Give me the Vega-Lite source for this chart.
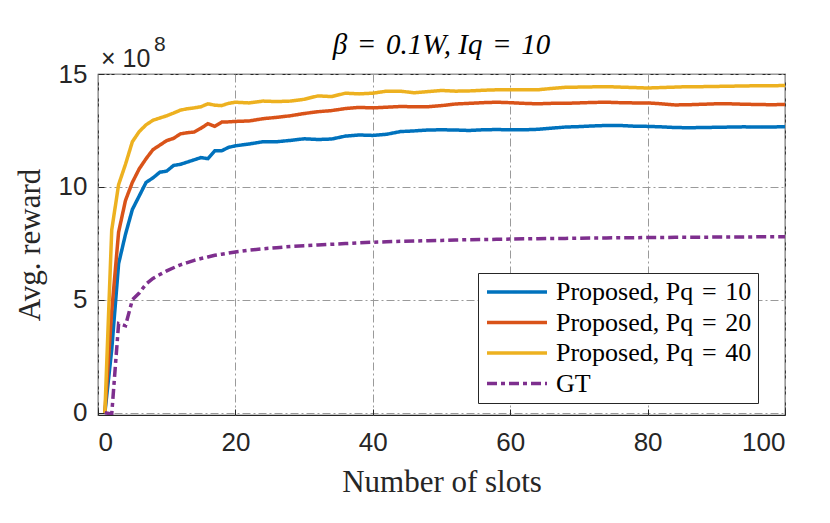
{
  "$schema": "https://vega.github.io/schema/vega-lite/v6.json",
  "width": 687,
  "height": 341,
  "autosize": {"type": "none"},
  "padding": {"left": 98, "top": 74, "right": 45, "bottom": 108},
  "background": "white",
  "title": {
    "text": "β\u2004=\u20040.1W, Iq\u2004=\u200410",
    "font": "Liberation Serif",
    "fontSize": 29,
    "fontStyle": "italic",
    "fontWeight": "normal",
    "color": "#000000",
    "anchor": "middle",
    "offset": -26
  },
  "data": {
    "values": [
      {"slot": 1, "p10": 0, "p20": 0, "p40": 0, "gt": 0},
      {"slot": 2, "p10": 2.8, "p20": 4.5, "p40": 8.1, "gt": -0.05},
      {"slot": 3, "p10": 6.6, "p20": 8.0, "p40": 10.1, "gt": 3.95},
      {"slot": 4, "p10": 7.9, "p20": 9.4, "p40": 11.0, "gt": 3.85},
      {"slot": 5, "p10": 9.0, "p20": 10.2, "p40": 12.0, "gt": 5.0},
      {"slot": 6, "p10": 9.6, "p20": 10.8, "p40": 12.45, "gt": 5.3},
      {"slot": 7, "p10": 10.2, "p20": 11.25, "p40": 12.75, "gt": 5.7},
      {"slot": 8, "p10": 10.4, "p20": 11.65, "p40": 12.95, "gt": 5.95},
      {"slot": 9, "p10": 10.65, "p20": 11.85, "p40": 13.05, "gt": 6.12},
      {"slot": 10, "p10": 10.7, "p20": 12.05, "p40": 13.15, "gt": 6.28},
      {"slot": 11, "p10": 10.95, "p20": 12.15, "p40": 13.27, "gt": 6.42},
      {"slot": 12, "p10": 11.0, "p20": 12.35, "p40": 13.4, "gt": 6.55},
      {"slot": 13, "p10": 11.1, "p20": 12.4, "p40": 13.46, "gt": 6.65},
      {"slot": 14, "p10": 11.2, "p20": 12.43, "p40": 13.5, "gt": 6.75},
      {"slot": 15, "p10": 11.3, "p20": 12.6, "p40": 13.55, "gt": 6.83},
      {"slot": 16, "p10": 11.25, "p20": 12.8, "p40": 13.68, "gt": 6.9},
      {"slot": 17, "p10": 11.6, "p20": 12.68, "p40": 13.62, "gt": 6.97},
      {"slot": 18, "p10": 11.6, "p20": 12.87, "p40": 13.6, "gt": 7.02},
      {"slot": 19, "p10": 11.75, "p20": 12.88, "p40": 13.7, "gt": 7.07},
      {"slot": 20, "p10": 11.82, "p20": 12.9, "p40": 13.75, "gt": 7.12},
      {"slot": 22, "p10": 11.9, "p20": 12.92, "p40": 13.72, "gt": 7.2},
      {"slot": 24, "p10": 12.0, "p20": 13.02, "p40": 13.8, "gt": 7.26},
      {"slot": 26, "p10": 12.0, "p20": 13.08, "p40": 13.78, "gt": 7.31},
      {"slot": 28, "p10": 12.06, "p20": 13.15, "p40": 13.8, "gt": 7.36},
      {"slot": 30, "p10": 12.13, "p20": 13.25, "p40": 13.88, "gt": 7.4},
      {"slot": 32, "p10": 12.1, "p20": 13.33, "p40": 14.03, "gt": 7.43},
      {"slot": 34, "p10": 12.12, "p20": 13.38, "p40": 14.0, "gt": 7.46},
      {"slot": 36, "p10": 12.25, "p20": 13.47, "p40": 14.15, "gt": 7.49},
      {"slot": 38, "p10": 12.3, "p20": 13.52, "p40": 14.12, "gt": 7.52},
      {"slot": 40, "p10": 12.28, "p20": 13.5, "p40": 14.15, "gt": 7.55},
      {"slot": 42, "p10": 12.33, "p20": 13.53, "p40": 14.24, "gt": 7.57},
      {"slot": 44, "p10": 12.45, "p20": 13.56, "p40": 14.24, "gt": 7.59},
      {"slot": 46, "p10": 12.48, "p20": 13.55, "p40": 14.17, "gt": 7.6},
      {"slot": 48, "p10": 12.52, "p20": 13.55, "p40": 14.22, "gt": 7.62},
      {"slot": 50, "p10": 12.53, "p20": 13.6, "p40": 14.27, "gt": 7.63},
      {"slot": 52, "p10": 12.52, "p20": 13.67, "p40": 14.24, "gt": 7.65},
      {"slot": 54, "p10": 12.5, "p20": 13.7, "p40": 14.25, "gt": 7.66},
      {"slot": 56, "p10": 12.53, "p20": 13.73, "p40": 14.28, "gt": 7.67},
      {"slot": 58, "p10": 12.54, "p20": 13.75, "p40": 14.3, "gt": 7.68},
      {"slot": 60, "p10": 12.53, "p20": 13.73, "p40": 14.3, "gt": 7.69},
      {"slot": 62, "p10": 12.53, "p20": 13.7, "p40": 14.3, "gt": 7.7},
      {"slot": 64, "p10": 12.55, "p20": 13.68, "p40": 14.3, "gt": 7.71},
      {"slot": 66, "p10": 12.6, "p20": 13.7, "p40": 14.36, "gt": 7.72},
      {"slot": 68, "p10": 12.65, "p20": 13.7, "p40": 14.41, "gt": 7.72},
      {"slot": 70, "p10": 12.67, "p20": 13.72, "p40": 14.42, "gt": 7.73},
      {"slot": 72, "p10": 12.7, "p20": 13.74, "p40": 14.43, "gt": 7.74},
      {"slot": 74, "p10": 12.72, "p20": 13.75, "p40": 14.44, "gt": 7.74},
      {"slot": 76, "p10": 12.72, "p20": 13.73, "p40": 14.42, "gt": 7.75},
      {"slot": 78, "p10": 12.69, "p20": 13.72, "p40": 14.4, "gt": 7.75},
      {"slot": 80, "p10": 12.68, "p20": 13.72, "p40": 14.38, "gt": 7.76},
      {"slot": 82, "p10": 12.66, "p20": 13.68, "p40": 14.4, "gt": 7.76},
      {"slot": 84, "p10": 12.63, "p20": 13.63, "p40": 14.42, "gt": 7.77},
      {"slot": 86, "p10": 12.62, "p20": 13.64, "p40": 14.44, "gt": 7.77},
      {"slot": 88, "p10": 12.63, "p20": 13.66, "p40": 14.44, "gt": 7.77},
      {"slot": 90, "p10": 12.64, "p20": 13.68, "p40": 14.45, "gt": 7.78},
      {"slot": 92, "p10": 12.65, "p20": 13.68, "p40": 14.46, "gt": 7.78},
      {"slot": 94, "p10": 12.66, "p20": 13.66, "p40": 14.47, "gt": 7.78},
      {"slot": 96, "p10": 12.65, "p20": 13.65, "p40": 14.48, "gt": 7.79},
      {"slot": 98, "p10": 12.65, "p20": 13.64, "p40": 14.48, "gt": 7.79},
      {"slot": 100, "p10": 12.67, "p20": 13.65, "p40": 14.49, "gt": 7.79}
    ]
  },
  "layer": [
    {
      "transform": [
        {"fold": ["p10", "p20", "p40", "gt"], "as": ["series", "reward"]}
      ],
      "mark": {"type": "line", "strokeWidth": 3.5, "clip": true},
      "encoding": {
        "x": {
          "field": "slot",
          "type": "quantitative",
          "scale": {"domain": [0, 100], "nice": false},
          "axis": {"values": [0, 20, 40, 60, 80, 100], "title": "Number of slots", "labelPadding": 20, "titlePadding": 12}
        },
        "y": {
          "field": "reward",
          "type": "quantitative",
          "scale": {"domain": [-0.1, 15], "nice": false, "zero": false},
          "axis": {"values": [0, 5, 10, 15], "title": "Avg. reward", "labelPadding": 17, "titlePadding": 12}
        },
        "color": {
          "field": "series",
          "type": "nominal",
          "scale": {
            "domain": ["p10", "p20", "p40", "gt"],
            "range": ["#0072BD", "#D95319", "#EDB120", "#7E2F8E"]
          },
          "legend": {
            "labelExpr": "datum.label == 'p10' ? 'Proposed, Pq\u2004=\u200410' : datum.label == 'p20' ? 'Proposed, Pq\u2004=\u200420' : datum.label == 'p40' ? 'Proposed, Pq\u2004=\u200440' : 'GT'"
          }
        },
        "strokeDash": {
          "field": "series",
          "type": "nominal",
          "scale": {
            "domain": ["p10", "p20", "p40", "gt"],
            "range": [[1, 0], [1, 0], [1, 0], [10, 4, 4, 4]]
          },
          "legend": {
            "labelExpr": "datum.label == 'p10' ? 'Proposed, Pq\u2004=\u200410' : datum.label == 'p20' ? 'Proposed, Pq\u2004=\u200420' : datum.label == 'p40' ? 'Proposed, Pq\u2004=\u200440' : 'GT'"
          }
        }
      }
    },
    {
      "data": {"values": [{"t": "× 10"}]},
      "mark": {"type": "text", "font": "Liberation Sans", "fontSize": 25, "align": "left", "baseline": "alphabetic", "dx": 3, "dy": -7, "color": "#262626"},
      "encoding": {"x": {"datum": 0}, "y": {"datum": 15}, "text": {"field": "t"}}
    },
    {
      "data": {"values": [{"t": "8"}]},
      "mark": {"type": "text", "font": "Liberation Sans", "fontSize": 21, "align": "left", "baseline": "alphabetic", "dx": 56, "dy": -23, "color": "#262626"},
      "encoding": {"x": {"datum": 0}, "y": {"datum": 15}, "text": {"field": "t"}}
    }
  ],
  "config": {
    "view": {"stroke": "#262626", "strokeWidth": 1.2},
    "axis": {
      "domain": false,
      "labelFont": "Liberation Sans",
      "labelFontSize": 26,
      "labelColor": "#262626",
      "tickSize": -6,
      "tickColor": "#262626",
      "titleFont": "Liberation Serif",
      "titleFontSize": 31,
      "titleFontWeight": "normal",
      "titleColor": "#262626",
      "grid": true,
      "gridColor": "#9a9a9a",
      "gridWidth": 1,
      "gridDash": [8, 3, 2, 3]
    },
    "legend": {
      "orient": "none",
      "legendX": 380,
      "legendY": 199,
      "title": null,
      "strokeColor": "#262626",
      "fillColor": "white",
      "padding": 6,
      "labelFont": "Liberation Serif",
      "labelFontSize": 26,
      "labelColor": "#000000",
      "labelLimit": 400,
      "labelOffset": 46,
      "rowPadding": 4.5,
      "symbolType": "M-1,0H5",
      "symbolSize": 400,
      "symbolStrokeWidth": 3.5,
      "symbolFillColor": "transparent"
    }
  }
}
